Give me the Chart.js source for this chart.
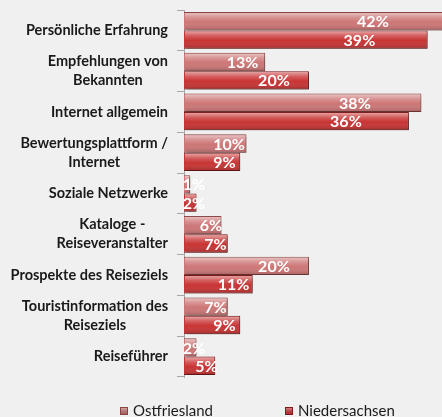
<!DOCTYPE html>
<html><head><meta charset="utf-8">
<script src="https://cdn.jsdelivr.net/npm/chart.js@4/dist/chart.umd.min.js"></script>
<style>html,body{margin:0;padding:0;background:#f0f0f0;}#wrap{width:442px;height:417px;position:relative}</style>
</head><body><div id="wrap"><canvas id="c" width="442" height="417"></canvas></div>
<script>
const categories = [["Persönliche Erfahrung"],["Empfehlungen von","Bekannten"],["Internet allgemein"],["Bewertungsplattform /","Internet"],["Soziale Netzwerke"],["Kataloge -","Reiseveranstalter"],["Prospekte des Reiseziels"],["Touristinformation des","Reiseziels"],["Reiseführer"]];
const seriesNames = ["Ostfriesland","Niedersachsen"];
const ostfriesland = [42,13,38,10,1,6,20,7,2];
const niedersachsen = [39,20,36,9,2,7,11,9,5];

const baseColors = ['#cd7676','#c83434'];
const borderColors = ['#8a4444','#7a1c1c'];

const fx = {
  id:'fx',
  beforeDatasetsDraw(chart){ const c=chart.ctx; c.save(); c.shadowColor='rgba(0,0,0,0.35)'; c.shadowOffsetX=2; c.shadowOffsetY=2; c.shadowBlur=3; },
  afterDatasetsDraw(chart){
    const c=chart.ctx; c.restore();
    const a=chart.chartArea;
    c.save(); c.beginPath(); c.rect(a.left,a.top,a.right-a.left,a.bottom-a.top); c.clip();
    chart.data.datasets.forEach((ds,di)=>{
      const meta=chart.getDatasetMeta(di);
      meta.data.forEach((bar)=>{
        const top=bar.y-bar.height/2, h=bar.height, l=Math.min(bar.base,bar.x), w=Math.abs(bar.x-bar.base);
        if (w<2) return;
        const g=c.createLinearGradient(0,top,0,top+h);
        g.addColorStop(0,'rgba(255,255,255,0.6)');
        g.addColorStop(0.3,'rgba(255,255,255,0.2)');
        g.addColorStop(0.55,'rgba(255,255,255,0)');
        g.addColorStop(1,'rgba(0,0,0,0.2)');
        c.fillStyle=g; c.fillRect(l+1,top+1,w-2,h-2);
      });
    });
    c.restore();
    c.save(); c.font='bold 16px Lato'; c.fillStyle='#fff'; c.textAlign='center'; c.textBaseline='middle';
    const xs=chart.scales.x;
    chart.data.datasets.forEach((ds,di)=>{
      const meta=chart.getDatasetMeta(di);
      meta.data.forEach((bar,i)=>{
        const v=ds.data[i];
        const p=Math.max(v*0.72,1.6);
        c.fillText(v+'%', xs.getPixelForValue(p), bar.y+1);
      });
    });
    c.restore();
  },
  afterDraw(chart){
    const c=chart.ctx; const ys=chart.scales.y; const a=chart.chartArea;
    c.save(); c.font='bold 14.5px Lato'; c.fillStyle='#1a1a1a'; c.textBaseline='middle'; c.textAlign='center';
    const lh=19; const right=a.left-16;
    categories.forEach((lines,i)=>{
      const yc=ys.getPixelForValue(i);
      const wmax=Math.max(...lines.map(t=>c.measureText(t).width));
      const cx=right-wmax/2;
      lines.forEach((t,k)=>{ c.fillText(t,cx,yc+(k-(lines.length-1)/2)*lh); });
    });
    c.restore();
    // legend
    c.save(); c.font='15px Lato'; c.textBaseline='middle'; c.textAlign='left'; c.fillStyle='#1a1a1a';
    const ly=411; const xsL=[120,285];
    seriesNames.forEach((n,i)=>{
      const bx=xsL[i];
      c.fillStyle=baseColors[i]; c.fillRect(bx,ly-4,8,8);
      const g=c.createLinearGradient(0,ly-4,0,ly+4); g.addColorStop(0,'rgba(255,255,255,0.5)'); g.addColorStop(1,'rgba(0,0,0,0.15)');
      c.fillStyle=g; c.fillRect(bx,ly-4,8,8);
      c.strokeStyle=borderColors[i]; c.lineWidth=1; c.strokeRect(bx+0.5,ly-3.5,7,7);
      c.fillStyle='#1a1a1a'; c.fillText(n,bx+13,ly);
    });
    c.restore();
  }
};

new Chart(document.getElementById('c'),{
  type:'bar',
  data:{
    labels:categories,
    datasets:[
      {label:seriesNames[0],data:ostfriesland,backgroundColor:baseColors[0],borderColor:borderColors[0],borderWidth:1,categoryPercentage:0.9,barPercentage:1.0},
      {label:seriesNames[1],data:niedersachsen,backgroundColor:baseColors[1],borderColor:borderColors[1],borderWidth:1,categoryPercentage:0.9,barPercentage:1.0}
    ]
  },
  options:{
    indexAxis:'y',
    responsive:false,
    animation:false,
    layout:{padding:{top:10,bottom:40,left:0,right:0}},
    plugins:{legend:{display:false},tooltip:{enabled:false}},
    scales:{
      x:{display:false,min:0,max:41.3},
      y:{
        grid:{display:true,drawOnChartArea:false,tickLength:7,color:'#a6a6a6',offset:true},
        border:{color:'#a6a6a6'},
        ticks:{display:false},
        afterFit(s){s.width=184;}
      }
    }
  },
  plugins:[fx]
});
</script>
</body></html>
